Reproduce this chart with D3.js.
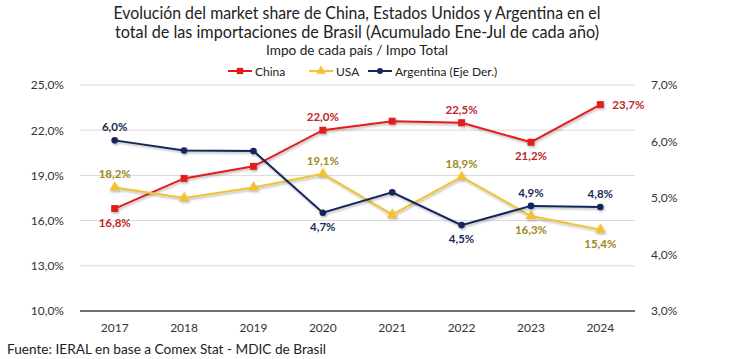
<!DOCTYPE html>
<html><head><meta charset="utf-8">
<script src="https://cdn.jsdelivr.net/npm/d3@7"></script>
<style>body{margin:0;background:#fff}svg{display:block}text{font-family:Lato,"Open Sans",sans-serif}</style>
</head><body>
<svg id="c" width="730" height="359"></svg>
<script>
const years = ["2017","2018","2019","2020","2021","2022","2023","2024"];
const china = [16.8,18.8,19.6,22.0,22.6,22.5,21.2,23.7];
const usa = [18.2,17.5,18.2,19.1,16.4,18.9,16.3,15.4];
const argentina = [6.02,5.84,5.83,4.74,5.1,4.52,4.86,4.84];
const leftTicks = [10,13,16,19,22,25];
const rightTicks = [3,4,5,6,7];
// label positions: index -> placement
const chinaLabels = {0:"below",3:"above",5:"above",6:"below",7:"right"};
const usaLabels = {0:"above",3:"above",5:"above",6:"below",7:"below"};
const argLabels = {0:"above",3:"below",5:"below",6:"above",7:"above"};

const svg = d3.select("#c");
const fmt = v => v.toFixed(1).replace(".", ",") + "%";
const x = d3.scaleBand().domain(years).range([80,635]);
const yL = d3.scaleLinear().domain([10,25]).range([311,85]);
const yR = d3.scaleLinear().domain([3,7]).range([311,85]);

const defs = svg.append("defs");
const f = defs.append("filter").attr("id","sh").attr("x","-20%").attr("y","-20%").attr("width","140%").attr("height","140%");
f.append("feDropShadow").attr("dx",1).attr("dy",1.5).attr("stdDeviation",1).attr("flood-color","#000").attr("flood-opacity",0.3);

// titles
svg.append("text").attr("x",357).attr("y",19).attr("text-anchor","middle").attr("font-size",17).attr("fill","#222")
  .attr("textLength",487).attr("lengthAdjust","spacingAndGlyphs")
  .text("Evolución del market share de China, Estados Unidos y Argentina en el");
svg.append("text").attr("x",357).attr("y",38).attr("text-anchor","middle").attr("font-size",17).attr("fill","#222")
  .attr("textLength",484).attr("lengthAdjust","spacingAndGlyphs")
  .text("total de las importaciones de Brasil (Acumulado Ene-Jul de cada año)");
svg.append("text").attr("x",357).attr("y",55).attr("text-anchor","middle").attr("font-size",13).attr("fill","#222")
  .attr("textLength",182).attr("lengthAdjust","spacingAndGlyphs")
  .text("Impo de cada país / Impo Total");

// gridlines
svg.append("g").selectAll("line").data(leftTicks.filter(d=>d!==10)).join("line")
  .attr("x1",80).attr("x2",635).attr("y1",d=>yL(d)).attr("y2",d=>yL(d))
  .attr("stroke","#d9d9d9").attr("stroke-width",1);
svg.append("line").attr("x1",80).attr("x2",635).attr("y1",yL(10)).attr("y2",yL(10)).attr("stroke","#404040").attr("stroke-width",1.3);

// axes
const axL = svg.append("g").attr("transform","translate(67,0)").call(d3.axisLeft(yL).tickValues(leftTicks).tickSize(0).tickFormat(fmt));
const axR = svg.append("g").attr("transform","translate(648,0)").call(d3.axisRight(yR).tickValues(rightTicks).tickSize(0).tickFormat(fmt));
const axB = svg.append("g").attr("transform","translate(0,320)").call(d3.axisBottom(x).tickSize(0));
[axL,axR,axB].forEach(a=>{a.select(".domain").remove();a.selectAll("text").attr("font-size",12).attr("fill","#333").attr("font-family","Lato,sans-serif");});
axL.selectAll("text").attr("dx",0);
axR.selectAll("text").attr("dx",0);

// series
const series = [
  {name:"China",vals:china,y:yL,color:"#e31b1b",lab:"#c0262c",shape:"square",labels:chinaLabels},
  {name:"USA",vals:usa,y:yL,color:"#f2c230",lab:"#a08820",shape:"triangle",labels:usaLabels},
  {name:"Argentina",vals:argentina,y:yR,color:"#13275a",lab:"#1a2a55",shape:"circle",labels:argLabels}
];
const cx = i => x(years[i]) + x.bandwidth()/2;
series.forEach(s=>{
  const g = svg.append("g").attr("filter","url(#sh)");
  g.append("path").datum(s.vals).attr("fill","none").attr("stroke",s.color).attr("stroke-width",2)
    .attr("d",d3.line().x((d,i)=>cx(i)).y(d=>s.y(d)));
  const sym = s.shape==="square"?d3.symbolSquare:s.shape==="triangle"?d3.symbolTriangle:d3.symbolCircle;
  const size = s.shape==="square"?48:s.shape==="triangle"?50:34;
  g.selectAll("path.m").data(s.vals).join("path").attr("class","m")
    .attr("transform",(d,i)=>`translate(${cx(i)},${s.y(d)})`)
    .attr("d",d3.symbol().type(sym).size(size)).attr("fill",s.color);
  const labs = Object.keys(s.labels).map(k=>({i:+k,pos:s.labels[k]}));
  svg.append("g").selectAll("text").data(labs).join("text")
    .attr("x",d=>d.pos==="right"?cx(d.i)+12:cx(d.i))
    .attr("y",d=>{const py=s.y(s.vals[d.i]);return d.pos==="above"?py-9:d.pos==="below"?py+18:py+4;})
    .attr("text-anchor",d=>d.pos==="right"?"start":"middle")
    .attr("font-size",11.5).attr("font-weight","bold").attr("fill",s.lab)
    .text(d=>fmt(s.vals[d.i]));
});

// legend
const leg = [
  {name:"China",color:"#e31b1b",shape:d3.symbolSquare,size:40,x1:228},
  {name:"USA",color:"#f2c230",shape:d3.symbolTriangle,size:40,x1:309},
  {name:"Argentina (Eje Der.)",color:"#13275a",shape:d3.symbolCircle,size:28,x1:368}
];
const lg = svg.append("g");
leg.forEach(l=>{
  lg.append("line").attr("x1",l.x1).attr("x2",l.x1+24).attr("y1",71).attr("y2",71).attr("stroke",l.color).attr("stroke-width",2);
  lg.append("path").attr("transform",`translate(${l.x1+12},71)`).attr("d",d3.symbol().type(l.shape).size(l.size)).attr("fill",l.color);
  lg.append("text").attr("x",l.x1+27).attr("y",75.5).attr("font-size",12).attr("fill","#222").text(l.name);
});

// source
svg.append("text").attr("x",7).attr("y",354).attr("font-size",12.5).attr("fill","#222")
  .attr("textLength",319).attr("lengthAdjust","spacingAndGlyphs")
  .text("Fuente: IERAL en base a Comex Stat - MDIC de Brasil");
</script>
</body></html>
